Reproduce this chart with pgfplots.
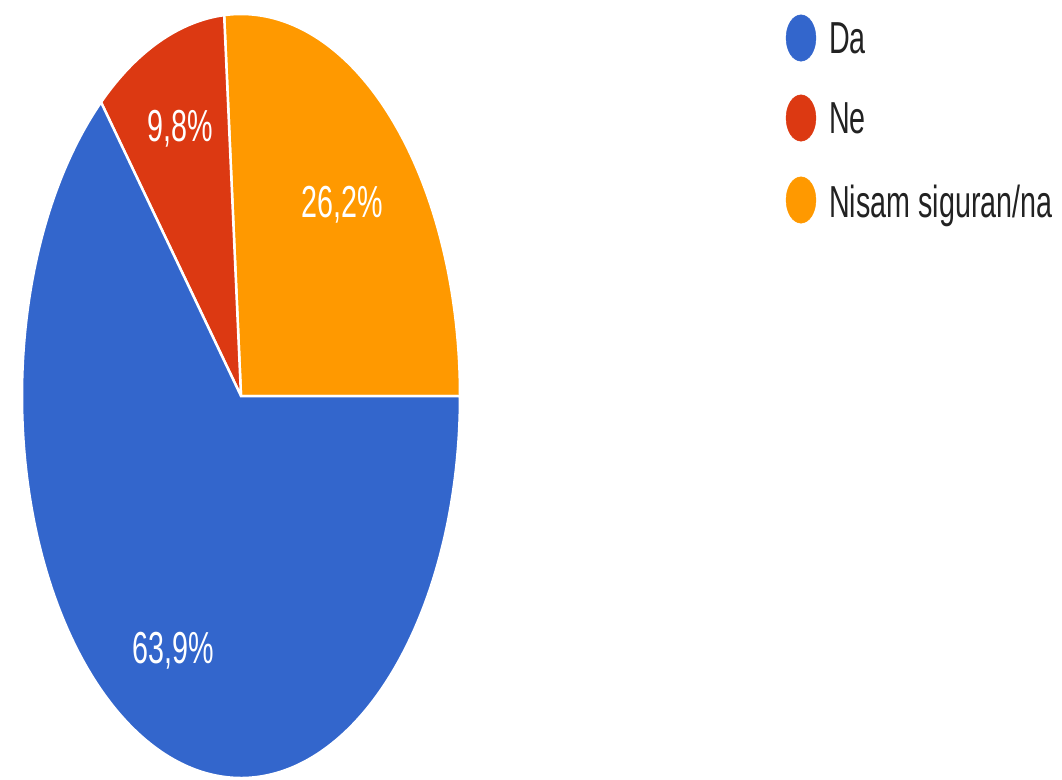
\documentclass[border=0pt]{standalone}
\usepackage{pgfplots}
\pgfplotsset{compat=1.18}
\usepackage{pgfplotstable}
\usepackage{graphicx}
\usepackage{fontspec}
\setmainfont{Liberation Sans}
\definecolor{gblue}{HTML}{3366CC}
\definecolor{gred}{HTML}{DC3912}
\definecolor{gorange}{HTML}{FF9900}
\definecolor{legtext}{HTML}{222222}
\pgfplotstableread{
label share
Da 63.9
Ne 9.8
Nisam 26.2
}\piedata
\pgfplotstablegetelem{0}{share}\of\piedata \let\vDa\pgfplotsretval
\pgfplotstablegetelem{1}{share}\of\piedata \let\vNe\pgfplotsretval
\pgfplotstablegetelem{2}{share}\of\piedata \let\vNi\pgfplotsretval
\pgfmathsetmacro\total{\vDa+\vNe+\vNi}
\pgfmathsetmacro\aOne{360*\vNi/\total}
\pgfmathsetmacro\aTwo{\aOne+360*\vNe/\total}
\newcommand\lbl[1]{\scalebox{0.64}[1]{\fontsize{45}{50}\selectfont #1}}
\begin{document}
\begin{tikzpicture}
\begin{axis}[
  width=1062bp, height=779bp, scale only axis,
  xmin=0, xmax=1062, ymin=0, ymax=779, y dir=reverse,
  hide axis, clip=false]
\path (rel axis cs:0,0) rectangle (rel axis cs:1,1);
% Nisam siguran/na
\addplot[fill=gorange, draw=white, line width=2.5pt, domain=0:\aOne, samples=120]
  ({241+219*cos(x)},{396-382*sin(x)}) -- (axis cs:241,396) -- cycle;
% Ne
\addplot[fill=gred, draw=white, line width=2.5pt, domain=\aOne:\aTwo, samples=60]
  ({241+219*cos(x)},{396-382*sin(x)}) -- (axis cs:241,396) -- cycle;
% Da
\addplot[fill=gblue, draw=white, line width=2.5pt, domain=\aTwo:360, samples=240]
  ({241+219*cos(x)},{396-382*sin(x)}) -- (axis cs:241,396) -- cycle;
% slice labels
\node[text=white, anchor=base, inner sep=0] at (axis cs:180,141) {\lbl{9,8\%}};
\node[text=white, anchor=base, inner sep=0] at (axis cs:342,217) {\lbl{26,2\%}};
\node[text=white, anchor=base, inner sep=0] at (axis cs:173,663) {\lbl{63,9\%}};
% legend
\addplot[only marks, mark=*, mark size=15, color=gblue, mark options={yscale=1.55}] coordinates {(801,38)};
\addplot[only marks, mark=*, mark size=15, color=gred, mark options={yscale=1.55}] coordinates {(801,118)};
\addplot[only marks, mark=*, mark size=15, color=gorange, mark options={yscale=1.55}] coordinates {(801,200)};
\node[text=legtext, anchor=base west, inner sep=0] at (axis cs:829,53) {\lbl{Da}};
\node[text=legtext, anchor=base west, inner sep=0] at (axis cs:829,133) {\lbl{Ne}};
\node[text=legtext, anchor=base west, inner sep=0] at (axis cs:829,217) {\lbl{Nisam siguran/na}};
\end{axis}
\end{tikzpicture}
\end{document}
